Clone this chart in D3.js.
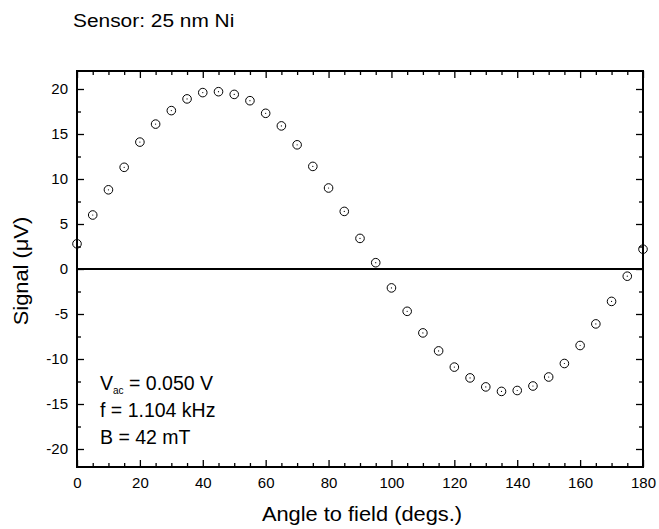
<!DOCTYPE html>
<html>
<head>
<meta charset="utf-8">
<script src="https://cdn.jsdelivr.net/npm/d3@7"></script>
<style>
  html, body { margin: 0; padding: 0; background: #fff; }
  svg { display: block; font-family: Arial, "Liberation Sans", sans-serif; }
</style>
</head>
<body>
<svg id="chart" width="659" height="529"></svg>
<script>
// Measured signal vs. field angle
const angles = [0, 5, 10, 15, 20, 25, 30, 35, 40, 45, 50, 55, 60, 65, 70, 75, 80, 85, 90,
                95, 100, 105, 110, 115, 120, 125, 130, 135, 140, 145, 150, 155, 160, 165, 170, 175, 180];
const signal = [2.8, 6.0, 8.8, 11.3, 14.1, 16.1, 17.6, 18.9, 19.6, 19.7, 19.4, 18.7, 17.3, 15.9, 13.8, 11.4, 9.0, 6.4, 3.4,
                0.7, -2.1, -4.7, -7.1, -9.1, -10.9, -12.1, -13.1, -13.6, -13.5, -13.0, -12.0, -10.5, -8.5, -6.1, -3.6, -0.8, 2.2];
const xTicks = [0, 20, 40, 60, 80, 100, 120, 140, 160, 180];
const yTicks = [-20, -15, -10, -5, 0, 5, 10, 15, 20];
const notes = ["f = 1.104 kHz", "B = 42 mT"];

const svg = d3.select("#chart");
const plotL = 77, plotR = 643, plotT = 71, plotB = 467;

const x = d3.scaleLinear().domain([0, 180]).range([plotL, plotR]);
const y = d3.scaleLinear().domain([-22, 22]).range([plotB, plotT]);

const xMinor = d3.range(0, 181, 5).filter(v => v % 20 !== 0);
const yMinor = d3.range(-20, 21, 2.5).filter(v => v % 5 !== 0);
const plain = d => String(d);   // hyphen-minus, as on the printed axis

function styleAxis(g) {
  g.select(".domain").remove();
  g.selectAll("line").attr("stroke", "#000").attr("stroke-width", 1.3);
  g.selectAll("text").attr("fill", "#000").attr("font-size", 15);
}

// bottom axis: labels outside, ticks pointing in
svg.append("g").attr("transform", `translate(0,${plotB})`)
  .call(d3.axisBottom(x).tickValues(xTicks).tickSize(-7).tickPadding(10).tickFormat(plain))
  .call(styleAxis);
svg.append("g").attr("transform", `translate(0,${plotB})`)
  .call(d3.axisBottom(x).tickValues(xMinor).tickSize(-4).tickFormat(""))
  .call(styleAxis);
// top axis mirror
svg.append("g").attr("transform", `translate(0,${plotT})`)
  .call(d3.axisTop(x).tickValues(xTicks).tickSize(-7).tickFormat(""))
  .call(styleAxis);
svg.append("g").attr("transform", `translate(0,${plotT})`)
  .call(d3.axisTop(x).tickValues(xMinor).tickSize(-4).tickFormat(""))
  .call(styleAxis);
// left axis
svg.append("g").attr("transform", `translate(${plotL},0)`)
  .call(d3.axisLeft(y).tickValues(yTicks).tickSize(-7).tickPadding(9).tickFormat(plain))
  .call(styleAxis);
svg.append("g").attr("transform", `translate(${plotL},0)`)
  .call(d3.axisLeft(y).tickValues(yMinor).tickSize(-4).tickFormat(""))
  .call(styleAxis);
// right axis mirror
svg.append("g").attr("transform", `translate(${plotR},0)`)
  .call(d3.axisRight(y).tickValues(yTicks).tickSize(-7).tickFormat(""))
  .call(styleAxis);
svg.append("g").attr("transform", `translate(${plotR},0)`)
  .call(d3.axisRight(y).tickValues(yMinor).tickSize(-4).tickFormat(""))
  .call(styleAxis);

// frame
svg.append("rect")
  .attr("x", plotL).attr("y", plotT)
  .attr("width", plotR - plotL).attr("height", plotB - plotT)
  .attr("fill", "none").attr("stroke", "#000").attr("stroke-width", 2);

// zero line
svg.append("line")
  .attr("x1", plotL).attr("x2", plotR)
  .attr("y1", y(0)).attr("y2", y(0))
  .attr("stroke", "#000").attr("stroke-width", 2);

// data markers: open circles with a centre dot
const pts = svg.append("g");
angles.forEach((a, i) => {
  pts.append("circle")
    .attr("cx", x(a)).attr("cy", y(signal[i])).attr("r", 4.3)
    .attr("fill", "none").attr("stroke", "#000").attr("stroke-width", 1);
  pts.append("circle")
    .attr("cx", x(a)).attr("cy", y(signal[i])).attr("r", 0.6)
    .attr("fill", "#000");
});

// title (slightly widened lettering)
svg.append("text")
  .attr("transform", "translate(73,27) scale(1.13,1)")
  .attr("font-size", 18.5).attr("fill", "#000").text("Sensor: 25 nm Ni");

// axis titles
svg.append("text")
  .attr("transform", `translate(${(plotL + plotR) / 2 + 2},521) scale(1.12,1)`)
  .attr("text-anchor", "middle").attr("font-size", 19.5).attr("fill", "#000")
  .text("Angle to field (degs.)");
svg.append("text")
  .attr("transform", `translate(28,${(plotT + plotB) / 2 + 2}) rotate(-90) scale(1.12,1)`)
  .attr("text-anchor", "middle").attr("font-size", 19.5).attr("fill", "#000")
  .text("Signal (\u03bcV)");

// annotation block
const ann = svg.append("g").attr("font-size", 19.5).attr("fill", "#000");
const v = ann.append("text").attr("x", 100).attr("y", 390);
v.append("tspan").text("V");
v.append("tspan").attr("font-size", 10).attr("dy", 4).text("ac");
v.append("tspan").attr("dy", -4).text(" = 0.050 V");
notes.forEach((t, i) => {
  ann.append("text").attr("x", 100).attr("y", 417 + i * 27).text(t);
});
</script>
</body>
</html>
